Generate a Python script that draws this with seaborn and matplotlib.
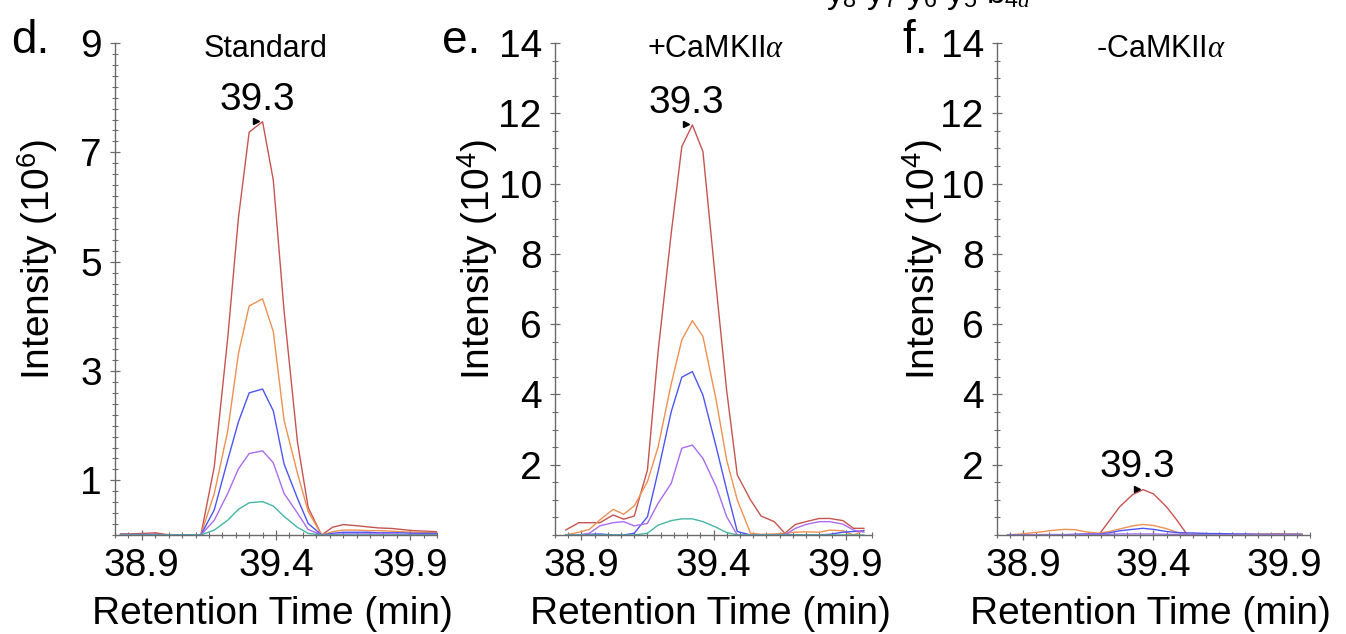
import numpy as np
import pandas as pd
import matplotlib
matplotlib.use("Agg")
import matplotlib.pyplot as plt
import matplotlib.transforms as mtransforms
from matplotlib.ticker import FixedLocator, MultipleLocator
import seaborn as sns

sns.set_theme(style="white")
plt.rcParams['font.family'] = ['Liberation Sans', 'DejaVu Sans']
plt.rcParams['mathtext.fontset'] = 'custom'
plt.rcParams['mathtext.rm'] = 'Liberation Sans'
plt.rcParams['mathtext.sf'] = 'Liberation Sans'
plt.rcParams['mathtext.it'] = 'Liberation Serif:italic'

# --- data ---
ions = ['y8', 'y7', 'y6', 'y5', 'y4a']
ion_colors = ['#c65450', '#ee9152', '#4d55f2', '#ab6cf0', '#45b5a5']

# d. Standard (x10^6)
d_time = [38.82, 38.86, 38.91, 38.95, 38.99, 39.04, 39.08, 39.12, 39.17, 39.22,
          39.26, 39.30, 39.35, 39.39, 39.43, 39.48, 39.52, 39.57, 39.61, 39.65,
          39.70, 39.74, 39.78, 39.83, 39.87, 39.91, 39.96, 40.00]
d_y8 = [0.02, 0.02, 0.03, 0.04, 0.01, 0.0, 0.0, 0.0, 1.25, 3.6,
        5.8, 7.37, 7.56, 6.49, 4.1, 1.7, 0.5, 0.0, 0.14, 0.19,
        0.17, 0.15, 0.13, 0.12, 0.10, 0.08, 0.07, 0.06]
d_y7 = [0.01, 0.01, 0.01, 0.01, 0.0, 0.0, 0.0, 0.0, 0.76, 1.9,
        3.32, 4.19, 4.32, 3.72, 2.1, 1.13, 0.43, 0.0, 0.06, 0.09,
        0.09, 0.08, 0.08, 0.07, 0.06, 0.05, 0.05, 0.04]
d_y6 = [0.01, 0.01, 0.01, 0.01, 0.0, 0.0, 0.0, 0.0, 0.46, 1.37,
        2.07, 2.60, 2.67, 2.27, 1.3, 0.67, 0.21, 0.0, 0.03, 0.05,
        0.05, 0.05, 0.04, 0.04, 0.04, 0.03, 0.03, 0.03]
d_y5 = [0.0, 0.0, 0.0, 0.0, 0.0, 0.0, 0.0, 0.0, 0.27, 0.76,
        1.21, 1.49, 1.54, 1.32, 0.76, 0.40, 0.10, 0.0, 0.01, 0.02,
        0.02, 0.02, 0.02, 0.02, 0.01, 0.01, 0.01, 0.01]
d_y4a = [0.0, 0.0, 0.0, 0.0, 0.0, 0.0, 0.0, 0.0, 0.09, 0.27,
         0.47, 0.59, 0.61, 0.53, 0.34, 0.14, 0.03, 0.0, 0.0, 0.0,
         0.0, 0.0, 0.0, 0.0, 0.0, 0.0, 0.0, 0.0]

# e. +CaMKIIa (x10^4)
e_time = [38.84, 38.89, 38.93, 38.97, 39.02, 39.06, 39.10, 39.15, 39.19, 39.24,
          39.28, 39.32, 39.36, 39.41, 39.45, 39.49, 39.54, 39.58, 39.63, 39.67,
          39.71, 39.75, 39.80, 39.84, 39.89, 39.93, 39.97]
e_y8 = [0.14, 0.35, 0.35, 0.35, 0.57, 0.45, 0.54, 1.85, 5.2, 8.59,
        11.05, 11.67, 10.91, 7.07, 4.1, 1.71, 1.0, 0.54, 0.38, 0.05,
        0.3, 0.38, 0.47, 0.47, 0.41, 0.19, 0.19]
e_y7 = [0.0, 0.08, 0.16, 0.43, 0.73, 0.59, 0.83, 1.52, 2.5, 4.3,
        5.55, 6.1, 5.65, 3.84, 2.13, 1.0, 0.05, 0.02, 0.03, 0.05,
        0.08, 0.09, 0.08, 0.14, 0.12, 0.0, 0.14]
e_y6 = [0.0, 0.0, 0.02, 0.03, 0.0, 0.0, 0.05, 0.52, 1.8, 3.51,
        4.49, 4.65, 3.98, 2.51, 1.28, 0.1, 0.0, 0.0, 0.0, 0.02,
        0.0, 0.0, 0.0, 0.02, 0.08, 0.1, 0.12]
e_y5 = [0.0, 0.0, 0.05, 0.26, 0.35, 0.38, 0.26, 0.33, 0.9, 1.47,
        2.47, 2.56, 2.18, 1.38, 0.52, 0.0, 0.0, 0.0, 0.0, 0.0,
        0.19, 0.3, 0.38, 0.38, 0.31, 0.14, 0.08]
e_y4a = [0.0, 0.0, 0.0, 0.0, 0.0, 0.0, 0.0, 0.05, 0.28, 0.41,
         0.46, 0.46, 0.38, 0.22, 0.07, 0.0, 0.0, 0.0, 0.0, 0.0,
         0.0, 0.0, 0.0, 0.0, 0.0, 0.0, 0.0]

# f. -CaMKIIa (x10^4)
f_time = [38.84, 38.88, 38.93, 38.97, 39.01, 39.06, 39.10, 39.14, 39.19, 39.23,
          39.27, 39.32, 39.36, 39.40, 39.45, 39.49, 39.53, 39.58, 39.62, 39.66,
          39.71, 39.75, 39.79, 39.84, 39.88, 39.92, 39.97]
f_y8 = [0.01, 0.01, 0.01, 0.01, 0.01, 0.01, 0.01, 0.01, 0.0, 0.4,
        0.8, 1.15, 1.29, 1.17, 0.8, 0.42, 0.0, 0.02, 0.02, 0.02,
        0.01, 0.01, 0.01, 0.01, 0.01, 0.01, 0.01]
f_y7 = [0.0, 0.02, 0.06, 0.09, 0.13, 0.16, 0.15, 0.09, 0.05, 0.1,
        0.17, 0.26, 0.30, 0.27, 0.18, 0.08, 0.02, 0.03, 0.03, 0.02,
        0.02, 0.02, 0.03, 0.03, 0.04, 0.03, 0.03]
f_y6 = [0.0, 0.0, 0.0, 0.01, 0.01, 0.01, 0.02, 0.03, 0.03, 0.06,
        0.12, 0.16, 0.19, 0.16, 0.1, 0.07, 0.06, 0.05, 0.04, 0.04,
        0.03, 0.03, 0.02, 0.02, 0.02, 0.02, 0.02]
f_y5 = [0.0, 0.0, 0.01, 0.01, 0.01, 0.01, 0.01, 0.02, 0.02, 0.02,
        0.03, 0.03, 0.03, 0.03, 0.02, 0.02, 0.02, 0.01, 0.01, 0.01,
        0.01, 0.01, 0.01, 0.01, 0.01, 0.01, 0.01]
f_y4a = [0.0] * 27

panel_letters = ['d.', 'e.', 'f.']
panel_titles = ['Standard', '+CaMKII$\\alpha$', '-CaMKII$\\alpha$']
y_labels = ['Intensity (10$^{6}$)', 'Intensity (10$^{4}$)', 'Intensity (10$^{4}$)']
y_max = [9, 14, 14]
y_ticks = [[1, 3, 5, 7, 9], [2, 4, 6, 8, 10, 12, 14], [2, 4, 6, 8, 10, 12, 14]]
x_ticks = [38.9, 39.4, 39.9]
peak_labels = ['39.3', '39.3', '39.3']


def long_frame(time, series):
    frames = []
    for ion, vals in zip(ions, series):
        frames.append(pd.DataFrame({'time': time, 'intensity': vals, 'ion': ion}))
    return pd.concat(frames, ignore_index=True)


panels = [
    long_frame(d_time, [d_y8, d_y7, d_y6, d_y5, d_y4a]),
    long_frame(e_time, [e_y8, e_y7, e_y6, e_y5, e_y4a]),
    long_frame(f_time, [f_y8, f_y7, f_y6, f_y5, f_y4a]),
]

W, H = 1346, 634
fig = plt.figure(figsize=(W / 100, H / 100), dpi=100)

# axes boxes in pixels: left, right
boxes = [(115, 437), (555, 872), (997, 1310)]
ax_top, ax_bot = 43, 535
letter_x = [11, 442, 902]
title_x = [266, 716, 1161]
ylab_x = [-0.171, -0.173, -0.166]

for i, df in enumerate(panels):
    l, r = boxes[i]
    ax = fig.add_axes([l / W, 1 - ax_bot / H, (r - l) / W, (ax_bot - ax_top) / H])
    sns.lineplot(data=df, x='time', y='intensity', hue='ion', hue_order=ions,
                 palette=ion_colors, linewidth=1.0, legend=False, sort=True,
                 estimator=None, ax=ax)
    ax.set_xlim(38.8, 40.0)
    ax.set_ylim(0, y_max[i])

    # apex annotation from the largest trace
    top = df[df['ion'] == ions[0]]
    k = top['intensity'].idxmax()
    px, py = top.loc[k, 'time'], top.loc[k, 'intensity']
    ax.annotate(peak_labels[i], xy=(px, py), xytext=(-4, 3), textcoords='offset points',
                ha='center', va='bottom', fontsize=28, color='black')
    tri = mtransforms.offset_copy(ax.transData, fig=fig, x=-4.5, y=0.5, units='points')
    ax.plot([px], [py], marker='>', ms=4, color='black', transform=tri, clip_on=False)

    sns.despine(ax=ax)
    for side in ['left', 'bottom']:
        ax.spines[side].set_color('#6a6a6a')
        ax.spines[side].set_linewidth(1.0)
    ax.xaxis.set_major_locator(FixedLocator(x_ticks))
    ax.xaxis.set_minor_locator(MultipleLocator(0.05))
    ax.set_xticklabels([f'{t:.1f}' for t in x_ticks])
    ax.yaxis.set_major_locator(FixedLocator(y_ticks[i]))
    ax.yaxis.set_minor_locator(MultipleLocator(0.2 if i == 0 else 0.5))
    ax.tick_params(which='major', direction='inout', length=7, width=0.9,
                   color='#6a6a6a', labelsize=28, labelcolor='black', pad=6,
                   left=True, bottom=True)
    ax.tick_params(which='minor', direction='inout', length=4, width=0.8,
                   color='#6a6a6a', left=True, bottom=True)

    ax.set_xlabel('Retention Time (min)', fontsize=28, color='black')
    ax.xaxis.set_label_coords(0.49, -0.125)
    ax.set_ylabel(y_labels[i], fontsize=28, color='black')
    ax.yaxis.set_label_coords(ylab_x[i], 0.56)

    fig.text(letter_x[i] / W, 1 - 53 / H, panel_letters[i], fontsize=33,
             ha='left', va='baseline', color='black')
    fig.text(title_x[i] / W, 1 - 49 / H, panel_titles[i], fontsize=22,
             ha='center', va='center', color='black')

# fragment of the ion legend cut off at the top edge
fig.text(826 / W, 1 - 3 / H, 'y$_8$ y$_7$ y$_6$ y$_5$ b$_{4a}$', fontsize=24,
         ha='left', va='baseline', color='black')

fig.savefig('out.png', dpi=100)
plt.close(fig)
